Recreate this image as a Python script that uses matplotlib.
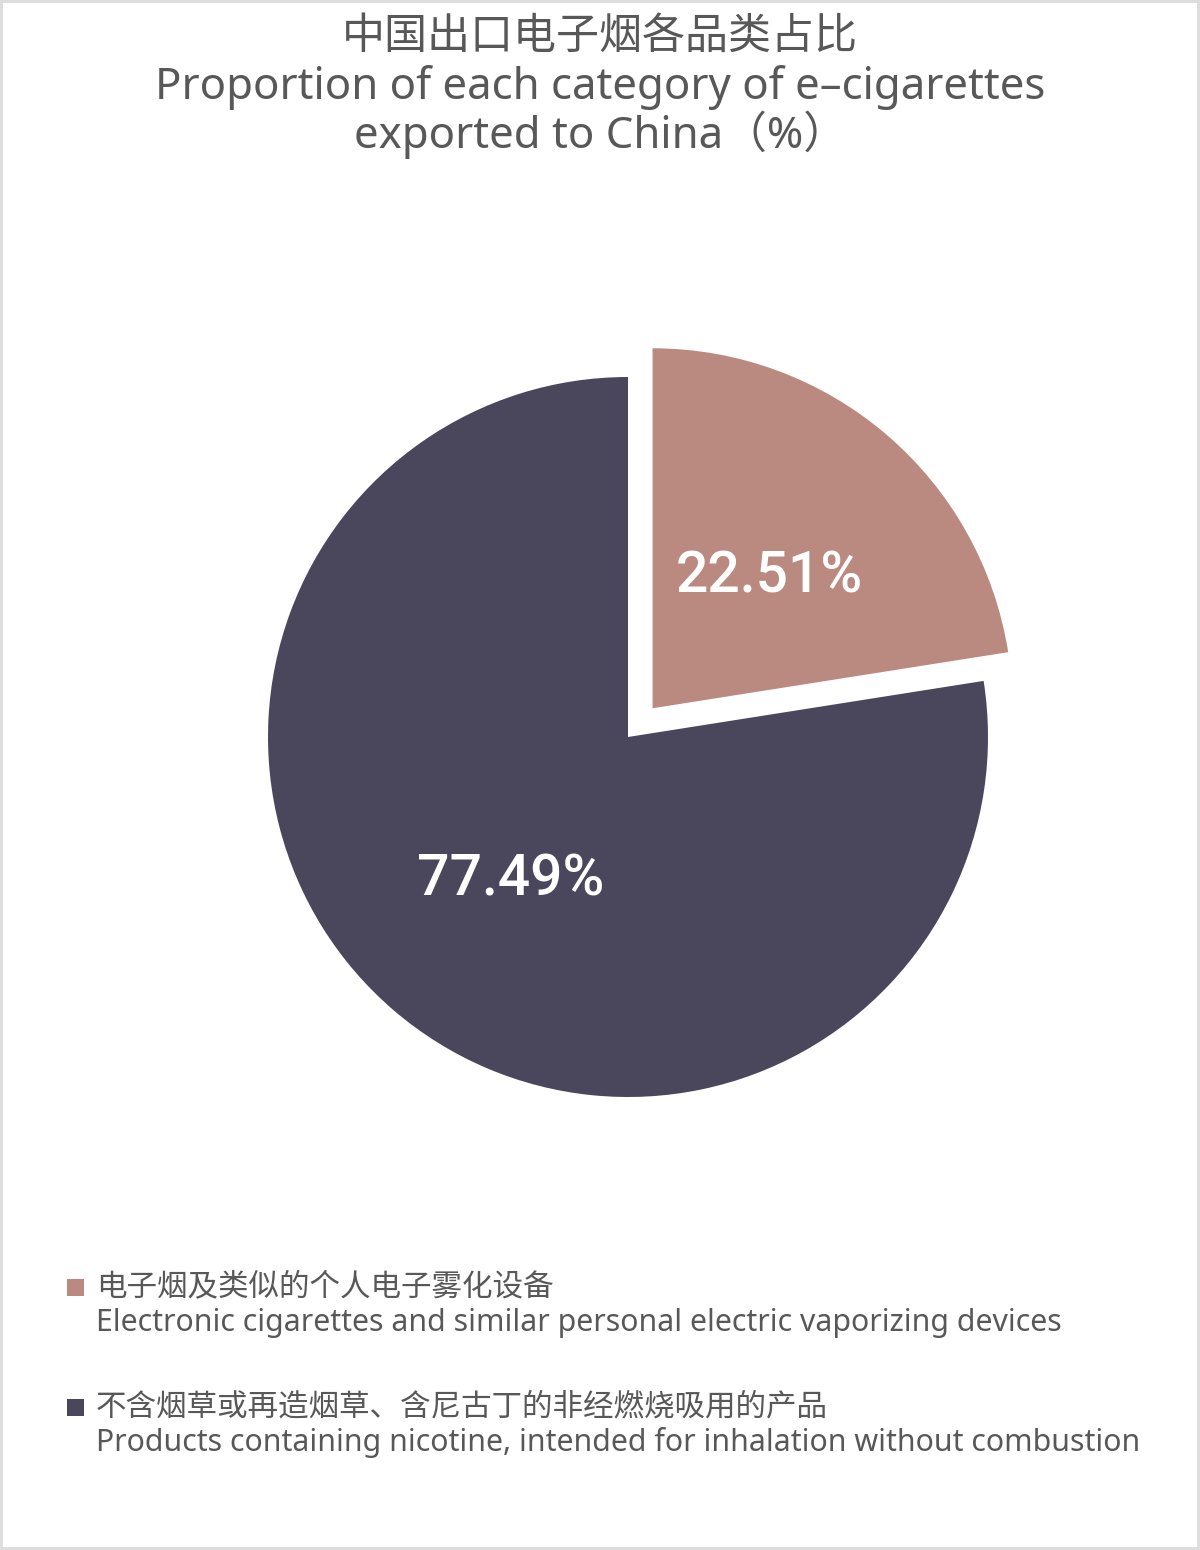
import matplotlib
matplotlib.use("Agg")
import matplotlib.pyplot as plt
from matplotlib.patches import Rectangle

# data
title_cn = "中国出口电子烟各品类占比"
title_en1 = "Proportion of each category of e–cigarettes"
title_en2 = "exported to China（%）"

labels_cn = ["电子烟及类似的个人电子雾化设备",
             "不含烟草或再造烟草、含尼古丁的非经燃烧吸用的产品"]
labels_en = ["Electronic cigarettes and similar personal electric vaporizing devices",
             "Products containing nicotine, intended for inhalation without combustion"]
shares = [22.51, 77.49]
colors = ["#BA8A80", "#4A475C"]

TXT = "#585858"
CN = ["Noto Sans CJK SC", "DejaVu Sans"]
EN = ["Noto Sans", "Noto Sans CJK SC", "DejaVu Sans"]

W, H = 1200, 1550
fig = plt.figure(figsize=(W / 100, H / 100), dpi=100)
fig.patch.set_facecolor("white")
fig.patch.set_edgecolor("#dddddd")
fig.patch.set_linewidth(3)

# pie axes: center at (628, 737) px, radius ~360 px
R = 360
cx, cy = 628, H - 737
half = 1.2 * R
ax = fig.add_axes([(cx - half) / W, (cy - half) / H, 2 * half / W, 2 * half / H])
wedges, texts, autotexts = ax.pie(
    shares, colors=colors, startangle=90, counterclock=False,
    explode=[0.105, 0], radius=1, autopct="%.2f%%", pctdistance=0.5,
    wedgeprops=dict(linewidth=0),
    textprops=dict(color="white", fontsize=41, fontweight="medium",
                   family=["Roboto", "DejaVu Sans"]))
for t in autotexts:
    t.set_va("center_baseline")
ax.set_xlim(-1.2, 1.2)
ax.set_ylim(-1.2, 1.2)
ax.set_aspect("equal")
ax.axis("off")

# titles
fig.text(0.5, 1 - 37 / H, title_cn, ha="center", va="center",
         fontsize=31, color=TXT, family=CN)
fig.text(0.5, 1 - 87 / H, title_en1, ha="center", va="center",
         fontsize=31.5, color=TXT, family=EN)
fig.text(0.5, 1 - 135 / H, title_en2, ha="center", va="center",
         fontsize=31.5, color=TXT, family=EN)

# legend
rows = [1287, 1407]
for i in range(len(shares)):
    y = rows[i]
    fig.patches.append(Rectangle((67 / W, 1 - (y + 9) / H), 17 / W, 17 / H,
                                 transform=fig.transFigure, facecolor=colors[i],
                                 edgecolor="none"))
    fig.text(96 / W, 1 - y / H, labels_cn[i], ha="left", va="center",
             fontsize=22, color=TXT, family=CN)
    fig.text(96 / W, 1 - (y + 36) / H, labels_en[i], ha="left", va="center",
             fontsize=21.8, color=TXT, family=EN)

fig.savefig("out.png", dpi=100, facecolor=fig.get_facecolor(),
            edgecolor=fig.get_edgecolor())
